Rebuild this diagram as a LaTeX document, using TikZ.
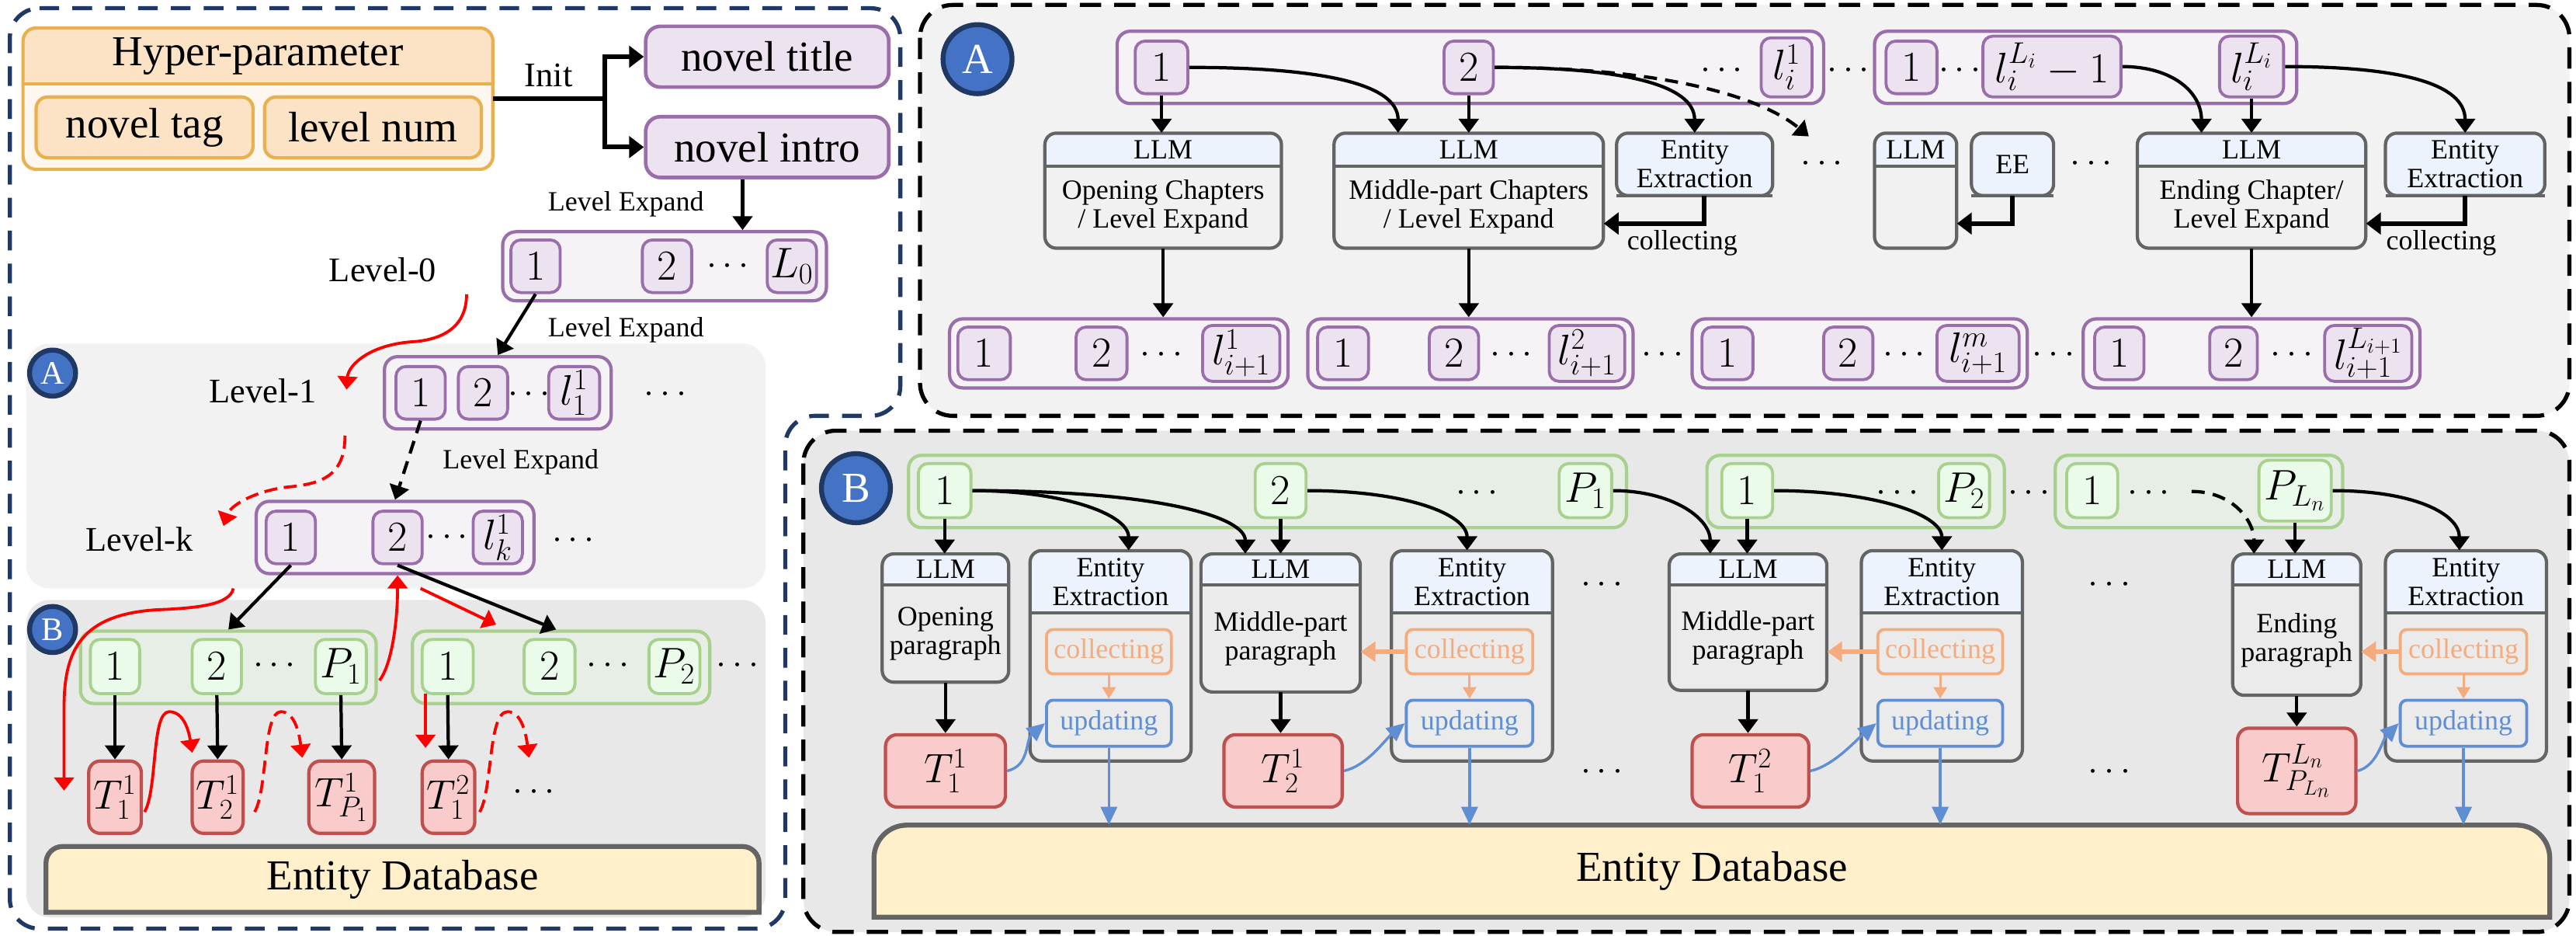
\RequirePackage{fix-cm}
\documentclass[tikz,border=0pt]{standalone}
\usepackage{fontspec}
\setmainfont{Liberation Serif}
\usetikzlibrary{arrows.meta}
\definecolor{pur}{HTML}{9A6EAA}
\definecolor{purfill}{HTML}{EDE3F0}
\definecolor{purcont}{HTML}{F6F3F7}
\definecolor{grn}{HTML}{A9D18E}
\definecolor{grnfill}{HTML}{EAFBEA}
\definecolor{grncont}{HTML}{E6EEE5}
\definecolor{redb}{HTML}{C0504D}
\definecolor{redfill}{HTML}{FACBCB}
\definecolor{hdr}{HTML}{EDF3FD}
\definecolor{bodyA}{HTML}{F1F1F1}
\definecolor{bodyB}{HTML}{EBEBEB}
\definecolor{gline}{HTML}{646464}
\definecolor{edfill}{HTML}{FFEFCA}
\definecolor{org}{HTML}{F4AC7E}
\definecolor{blu}{HTML}{5F8ED2}
\definecolor{navy}{HTML}{1F3864}
\definecolor{circ}{HTML}{4472C4}
\definecolor{hpline}{HTML}{E9B04F}
\definecolor{hpfill}{HTML}{FCE3C6}
\definecolor{hplight}{HTML}{FEF7EF}
\definecolor{bgA}{HTML}{F2F2F2}
\definecolor{bgB}{HTML}{E8E8E8}
\tikzset{
 fbig/.style={font=\fontsize{26}{28}\selectfont},
 fmid/.style={font=\fontsize{21}{23}\selectfont},
 fsm/.style={font=\fontsize{17}{17.5}\selectfont},
 pbox/.style={draw=pur, fill=purfill, line width=1.8pt, rounded corners=6pt, inner sep=0, fbig},
 pbig/.style={draw=pur, fill=purfill, line width=2.2pt, rounded corners=9pt, inner sep=0, fbig},
 pcont/.style={draw=pur, fill=purcont, line width=2pt, rounded corners=8pt, inner sep=0},
 gbox/.style={draw=grn, fill=grnfill, line width=1.8pt, rounded corners=6pt, inner sep=0, fbig},
 gcont/.style={draw=grn, fill=grncont, line width=2pt, rounded corners=8pt, inner sep=0},
 tbox/.style={draw=redb, fill=redfill, line width=2pt, rounded corners=7pt, inner sep=0, font=\fontsize{25}{27}\selectfont},
 hpin/.style={draw=hpline, fill=hpfill, line width=2pt, rounded corners=7pt, inner sep=0, fbig},
 colb/.style={draw=org, line width=1.8pt, rounded corners=4pt, inner sep=0, text=org, fsm},
 updb/.style={draw=blu, line width=1.8pt, rounded corners=4pt, inner sep=0, text=blu, fsm},
 dotsn/.style={inner sep=0, font=\fontsize{22}{24}\selectfont},
 circA/.style={circle, fill=circ, draw=navy, line width=3pt, text=white, inner sep=0, fbig},
 arr/.style={line width=2pt, -{Triangle[length=8.5pt,width=12pt]}},
 darr/.style={line width=2pt, dash pattern=on 8pt off 5pt, -{Triangle[length=8.5pt,width=12pt]}},
 elb/.style={line width=2.8pt, -{Triangle[length=9pt,width=13pt]}},
 redarr/.style={draw=red, line width=1.8pt, -{Triangle[length=8pt,width=12pt]}},
 redd/.style={draw=red, line width=1.8pt, dash pattern=on 8pt off 4pt, -{Triangle[length=8pt,width=12pt]}},
 oarr/.style={draw=org, line width=1.5pt, -{Triangle[length=7pt,width=8pt]}},
 oarr2/.style={draw=org, line width=2.8pt, -{Triangle[length=9pt,width=12pt]}},
 barr/.style={draw=blu, line width=1.6pt, -{Triangle[length=11pt,width=10pt]}},
}
\newcommand\bx[7]{\node[#1, minimum width={(#4)-(#3)}, minimum height={(#6)-(#5)}] (#2) at ({((#3)+(#4))/2},{((#5)+(#6))/2}) {#7};}
\newcommand\HB[9]{%
 \begin{scope}
  \clip[rounded corners=7pt] (#2,#4) rectangle (#3,#5);
  \fill[#9] (#2,#4) rectangle (#3,#5);
  \fill[hdr] (#2,#4) rectangle (#3,#6);
 \end{scope}
 \draw[gline, line width=2pt] (#2,#6) -- (#3,#6);
 \draw[gline, line width=2pt, rounded corners=7pt] (#2,#4) rectangle (#3,#5);
 \node[inner sep=0, minimum width={(#3)-(#2)}, minimum height={(#5)-(#4)}] (#1) at ({((#2)+(#3))/2},{((#4)+(#5))/2}) {};
 \node[fsm, inner sep=0, align=center] (#1h) at ({((#2)+(#3))/2},{((#4)+(#6))/2}) {#7};
 \node[fsm, inner sep=0, align=center] (#1b) at ({((#2)+(#3))/2},{((#6)+(#5))/2}) {#8};
}
\begin{document}
\begin{tikzpicture}[x=1pt,y=-1pt]
\useasboundingbox (0,0) rectangle (1568,569);
\fill[white] (0,0) rectangle (1568,569);

% ---------------- frames ----------------
\fill[bgA, rounded corners=14pt] (16,209) rectangle (466,358);
\fill[bgB, rounded corners=14pt] (16,365) rectangle (466,558);
\draw[navy, line width=2.5pt, dash pattern=on 12pt off 8pt, rounded corners=18pt]
  (6,5) -- (548,5) -- (548,253) -- (478,253) -- (478,565) -- (6,565) -- cycle;
\draw[black, fill=bgA, line width=2.5pt, dash pattern=on 13pt off 8pt, rounded corners=20pt] (560,3) rectangle (1564,253);
\draw[black, fill=bgB, line width=2.5pt, dash pattern=on 13pt off 8pt, rounded corners=20pt] (489,262) rectangle (1564,567);

% ---------------- left panel ----------------
\begin{scope}
 \clip[rounded corners=8pt] (14,17) rectangle (300,103);
 \fill[hplight] (14,17) rectangle (300,103);
 \fill[hpfill] (14,17) rectangle (300,51);
\end{scope}
\draw[hpline, line width=2pt] (14,51) -- (300,51);
\draw[hpline, line width=2pt, rounded corners=8pt] (14,17) rectangle (300,103);
\bx{inner sep=0}{hpbox}{14}{300}{17}{103}{}
\node[fbig, inner sep=0] (hp) at (157,34) {Hyper-parameter};
\bx{hpin}{tag}{22}{154}{59}{96}{novel tag}
\bx{hpin}{lvl}{161}{293}{59}{96}{level num}

\bx{pbig}{title}{393}{541}{16}{53}{novel title}
\bx{pbig}{intro}{393}{541}{71}{108}{novel intro}
\coordinate (ij) at (368,60);
\draw[line width=2.8pt] (hpbox.east) -- (ij);
\draw[elb] (ij) |- (title.west);
\draw[elb] (ij) |- (intro.west);
\node[fmid, inner sep=0] (init) at (334,46) {Init};

\bx{pcont}{L0c}{306}{503}{141}{183}{}
\bx{pbox}{L0a}{311}{341}{146}{178}{$1$}
\bx{pbox}{L0b}{391}{421}{146}{178}{$2$}
\node[dotsn] (L0d) at (443,162) {$\cdots$};
\bx{pbox}{L0l}{467}{497}{146}{178}{$L_0$}
\node[fmid, inner sep=0] (lv0) at (233,164) {Level-0};
\draw[arr] ([xshift=-15pt]intro.south) -- ([xshift=-15pt]intro.south |- L0c.north);
\node[fsm, inner sep=0] (le1) at (381,124) {Level Expand};

\node[circA, minimum size=28pt, font=\fontsize{20}{22}\selectfont] (cA) at (32,227) {A};
\bx{pcont}{L1c}{234}{372}{217}{261}{}
\bx{pbox}{L1a}{241}{271}{223}{255}{$1$}
\bx{pbox}{L1b}{279}{309}{223}{255}{$2$}
\node[dotsn] (L1d) at (322,240) {$\cdots$};
\bx{pbox}{L1l}{334}{365}{223}{255}{$l_1^1$}
\node[dotsn] (L1e) at (405,240) {$\cdots$};
\node[fmid, inner sep=0] (lv1) at (160,238) {Level-1};
\draw[arr] (L0a.south) -- (L1c.north);
\node[fsm, inner sep=0] (le2) at (381,201) {Level Expand};

\bx{pcont}{Lkc}{156}{325}{305}{349}{}
\bx{pbox}{Lka}{162}{192}{311}{343}{$1$}
\bx{pbox}{Lkb}{227}{257}{311}{343}{$2$}
\node[dotsn] (Lkd) at (272,327) {$\cdots$};
\bx{pbox}{Lkl}{288}{318}{311}{343}{$l_k^1$}
\node[dotsn] (Lke) at (349,329) {$\cdots$};
\node[fmid, inner sep=0] (lvk) at (85,328) {Level-k};
\draw[darr] (L1a.south) -- (Lkc.north);
\node[fsm, inner sep=0] (le3) at (317,281) {Level Expand};

\coordinate (r1s) at (284,179); \coordinate (r1e) at (211,237);
\draw[redarr] (r1s) .. controls (284,200) and (268,207) .. (250,208) .. controls (225,210) and (212,222) .. (r1e);
\coordinate (r2s) at (210,265); \coordinate (r2e) at (136,320);
\draw[redd] (r2s) .. controls (210,290) and (195,294) .. (178,296) .. controls (155,298) and (140,308) .. (r2e);

\node[circA, minimum size=28pt, font=\fontsize{20}{22}\selectfont] (cB) at (32,383) {B};
\bx{gcont}{G1}{49}{229}{384}{428}{}
\bx{gbox}{G1a}{55}{85}{389}{422}{$1$}
\bx{gbox}{G1b}{117}{147}{389}{422}{$2$}
\node[dotsn] (G1d) at (167,405) {$\cdots$};
\bx{gbox}{G1p}{192}{223}{389}{422}{$P_1$}
\bx{gcont}{G2}{251}{432}{384}{428}{}
\bx{gbox}{G2a}{257}{288}{389}{422}{$1$}
\bx{gbox}{G2b}{319}{350}{389}{422}{$2$}
\node[dotsn] (G2d) at (370,405) {$\cdots$};
\bx{gbox}{G2p}{395}{426}{389}{422}{$P_2$}
\node[dotsn] (G2e) at (449,405) {$\cdots$};

\bx{tbox}{T11}{54}{86}{463}{507}{$T_1^1$}
\bx{tbox}{T21}{117}{148}{463}{507}{$T_2^1$}
\bx{tbox}{TP1}{188}{228}{463}{507}{$T_{P_1}^1$}
\bx{tbox}{T12}{257}{289}{463}{507}{$T_1^2$}
\node[dotsn] (Td) at (325,482) {$\cdots$};

\draw[arr] (Lka.south) -- (G1.north);
\draw[arr] (Lkb.south) -- ([xshift=-3pt]G2.north);
\draw[arr] (G1a.south) -- (T11.north);
\draw[arr] (G1b.south) -- (T21.north);
\draw[arr] (G1p.south) -- (TP1.north);
\draw[arr] (G2a.south) -- (T12.north);

\coordinate (r3s) at (142,358); \coordinate (r3e) at (39,481);
\draw[redarr] (r3s) .. controls (140,368) and (120,370) .. (95,371) .. controls (50,374) and (39,395) .. (39,430) -- (r3e);
\coordinate (r4s) at (256,358); \coordinate (r4e) at (302,380);
\draw[redarr] (r4s) -- (r4e);
\coordinate (r5s) at (231,414);
\draw[redarr] (r5s) .. controls (238,405) and (242,380) .. (Lkb.south |- Lkc.south);
\coordinate (r6s) at (88,494); \coordinate (r6e) at (117,458);
\draw[redarr] (r6s) .. controls (96,480) and (92,433) .. (103,433) .. controls (112,433) and (115,445) .. (r6e);
\coordinate (r7s) at (155,494); \coordinate (r7e) at (184,461);
\draw[redd] (r7s) .. controls (163,480) and (160,433) .. (171,433) .. controls (179,433) and (182,445) .. (r7e);
\coordinate (r8s) at (259,422); \coordinate (r8e) at (259,455);
\draw[redarr] (r8s) -- (r8e);
\coordinate (r9s) at (292,494); \coordinate (r9e) at (322,461);
\draw[redd] (r9s) .. controls (300,480) and (297,433) .. (309,433) .. controls (317,433) and (320,445) .. (r9e);

\draw[gline, fill=edfill, line width=3pt] (28,555) [rounded corners=10pt] -- (28,515) -- (462,515) [sharp corners] -- (462,555) -- cycle;
\node[fbig, inner sep=0] (edL) at (245,535) {Entity Database};

% ---------------- panel A ----------------
\node[circA, minimum size=42pt] (cA2) at (595,36) {A};
\bx{pcont}{TA1}{680}{1110}{19}{63}{}
\bx{pbox}{Ab1}{691}{723}{25}{57}{$1$}
\bx{pbox}{Ab2}{879}{909}{25}{57}{$2$}
\node[dotsn] (Ad1) at (1048,43) {$\cdots$};
\bx{pbox}{Abl}{1072}{1103}{23}{59}{$l_i^1$}
\node[dotsn] (Ad2) at (1125,43) {$\cdots$};
\bx{pcont}{TA2}{1141}{1398}{19}{63}{}
\bx{pbox}{Ac1}{1148}{1179}{25}{57}{$1$}
\node[dotsn] (Ad3) at (1193,43) {$\cdots$};
\bx{pbox}{Acm}{1207}{1291}{22}{59}{$l_i^{L_i}-1$}
\bx{pbox}{Acl}{1351}{1390}{22}{59}{$l_i^{L_i}$}

\HB{LA1}{636}{780}{81}{151}{101}{LLM}{Opening Chapters\\/ Level Expand}{bodyA}
\HB{LA2}{812}{976}{81}{151}{101}{LLM}{Middle-part Chapters\\/ Level Expand}{bodyA}
\HB{EA1}{984}{1079}{81}{119}{119}{Entity\\Extraction}{}{bodyA}
\HB{LA3}{1141}{1191}{81}{151}{101}{LLM}{}{bodyA}
\HB{EA3}{1200}{1250}{81}{119}{119}{EE}{}{bodyA}
\HB{LA4}{1301}{1440}{81}{151}{101}{LLM}{Ending Chapter/\\Level Expand}{bodyA}
\HB{EA4}{1452}{1549}{81}{119}{119}{Entity\\Extraction}{}{bodyA}
\node[dotsn] (Ad4) at (1109,100) {$\cdots$};
\node[dotsn] (Ad5) at (1273,100) {$\cdots$};

\draw[elb] ([xshift=6pt]EA1.south) |- ([yshift=-20pt]LA2.east);
\draw[elb] (EA3.south) |- ([yshift=-20pt]LA3.east);
\draw[elb] (EA4.south) |- ([yshift=-20pt]LA4.east);
\node[fsm, inner sep=0] (colA1) at (1024,148) {collecting};
\node[fsm, inner sep=0] (colA2) at (1486,148) {collecting};

\draw[arr] (Ab1.south) -- (Ab1.south |- LA1.north);
\draw[arr] (Ab1.east) .. controls +(80,0) and +(0,-30) .. ([xshift=-43pt]LA2.north);
\draw[arr] (Ab2.south) -- (Ab2.south |- LA2.north);
\draw[arr] (Ab2.east) .. controls +(75,0) and +(0,-30) .. (EA1.north);
\coordinate (Adash) at (1101,83);
\draw[darr] (Ab2.east) .. controls +(100,0) and +(-30,-25) .. (Adash);
\draw[arr] (Acm.east) .. controls +(30,0) and +(0,-25) .. ([xshift=-30.5pt]LA4.north);
\draw[arr] (Acl.south) -- (Acl.south |- LA4.north);
\draw[arr] (Acl.east) .. controls +(70,0) and +(0,-30) .. (EA4.north);

\bx{pcont}{BA1}{578}{784}{194}{236}{}
\bx{pbox}{BA1a}{583}{615}{199}{231}{$1$}
\bx{pbox}{BA1b}{655}{686}{199}{231}{$2$}
\node[dotsn] (BA1d) at (707,216) {$\cdots$};
\bx{pbox}{BA1l}{732}{779}{198}{232}{$l_{i+1}^1$}
\bx{pcont}{BA2}{796}{994}{194}{236}{}
\bx{pbox}{BA2a}{802}{833}{199}{231}{$1$}
\bx{pbox}{BA2b}{870}{900}{199}{231}{$2$}
\node[dotsn] (BA2d) at (920,216) {$\cdots$};
\bx{pbox}{BA2l}{943}{989}{198}{232}{$l_{i+1}^2$}
\node[dotsn] (BAe1) at (1012,216) {$\cdots$};
\bx{pcont}{BA3}{1030}{1234}{194}{236}{}
\bx{pbox}{BA3a}{1036}{1067}{199}{231}{$1$}
\bx{pbox}{BA3b}{1110}{1140}{199}{231}{$2$}
\node[dotsn] (BA3d) at (1159,216) {$\cdots$};
\bx{pbox}{BA3l}{1179}{1229}{198}{232}{$l_{i+1}^m$}
\node[dotsn] (BAe2) at (1250,216) {$\cdots$};
\bx{pcont}{BA4}{1268}{1473}{194}{236}{}
\bx{pbox}{BA4a}{1275}{1305}{199}{231}{$1$}
\bx{pbox}{BA4b}{1345}{1374}{199}{231}{$2$}
\node[dotsn] (BA4d) at (1395,216) {$\cdots$};
\bx{pbox}{BA4l}{1415}{1468}{198}{232}{$l_{i+1}^{L_{i+1}}$}

\draw[arr] (LA1.south) -- (LA1.south |- BA1.north);
\draw[arr] (LA2.south) -- (LA2.south |- BA2.north);
\draw[arr] (LA4.south) -- (LA4.south |- BA4.north);

% ---------------- panel B ----------------
\node[circA, minimum size=42pt] (cB2) at (521,297) {B};
\bx{gcont}{GB1}{553}{990}{277}{321}{}
\bx{gbox}{GB1a}{559}{591}{282}{315}{$1$}
\bx{gbox}{GB1b}{764}{795}{282}{315}{$2$}
\node[dotsn] (GB1d) at (899,300) {$\cdots$};
\bx{gbox}{GB1p}{949}{981}{282}{315}{$P_1$}
\bx{gcont}{GB2}{1039}{1220}{277}{321}{}
\bx{gbox}{GB2a}{1048}{1079}{282}{315}{$1$}
\node[dotsn] (GB2d) at (1155,300) {$\cdots$};
\bx{gbox}{GB2p}{1180}{1211}{282}{315}{$P_2$}
\node[dotsn] (GBe) at (1235,300) {$\cdots$};
\bx{gcont}{GB3}{1251}{1426}{277}{321}{}
\bx{gbox}{GB3a}{1258}{1289}{282}{315}{$1$}
\node[dotsn] (GB3d) at (1308,300) {$\cdots$};
\bx{gbox}{GB3p}{1375}{1419}{280}{317}{$P_{L_n}$}

\HB{LB1}{537}{614}{337}{415}{356}{LLM}{Opening\\paragraph}{bodyB}
\HB{EB1}{627}{725}{335}{463}{373}{Entity\\Extraction}{}{bodyB}
\HB{LB2}{731}{828}{337}{421}{356}{LLM}{Middle-part\\paragraph}{bodyB}
\HB{EB2}{847}{945}{335}{463}{373}{Entity\\Extraction}{}{bodyB}
\HB{LB3}{1016}{1112}{337}{420}{356}{LLM}{Middle-part\\paragraph}{bodyB}
\HB{EB3}{1133}{1231}{335}{463}{373}{Entity\\Extraction}{}{bodyB}
\HB{LB4}{1359}{1437}{337}{423}{356}{LLM}{Ending\\paragraph}{bodyB}
\HB{EB4}{1452}{1550}{335}{463}{373}{Entity\\Extraction}{}{bodyB}

\bx{colb}{EB1c}{637}{713}{383}{410}{collecting}
\bx{updb}{EB1u}{637}{713}{426}{454}{updating}
\bx{colb}{EB2c}{856}{933}{383}{410}{collecting}
\bx{updb}{EB2u}{856}{933}{426}{454}{updating}
\bx{colb}{EB3c}{1143}{1219}{383}{410}{collecting}
\bx{updb}{EB3u}{1143}{1219}{426}{454}{updating}
\bx{colb}{EB4c}{1461}{1538}{383}{410}{collecting}
\bx{updb}{EB4u}{1461}{1538}{426}{454}{updating}

\node[dotsn] (Bd1) at (975,356) {$\cdots$};
\node[dotsn] (Bd2) at (975,470) {$\cdots$};
\node[dotsn] (Bd3) at (1284,356) {$\cdots$};
\node[dotsn] (Bd4) at (1284,470) {$\cdots$};

\bx{tbox}{TB1}{539}{612}{447}{491}{$T_1^1$}
\bx{tbox}{TB2}{745}{817}{447}{491}{$T_2^1$}
\bx{tbox}{TB3}{1030}{1101}{447}{491}{$T_1^2$}
\bx{tbox}{TB4}{1362}{1434}{443}{495}{$T_{P_{L_n}}^{L_n}$}

\draw[gline, fill=edfill, line width=3pt] (532,558) [rounded corners=20pt] -- (532,502) -- (1552,502) [sharp corners] -- (1552,558) -- cycle;
\bx{inner sep=0}{EDB}{532}{1552}{502}{558}{}
\node[fbig, inner sep=0] (edR) at (1042,530) {Entity Database};

% arrows B
\draw[arr] (GB1a.south) -- (GB1a.south |- LB1.north);
\draw[arr] (GB1a.east) .. controls +(55,0) and +(0,-22) .. ([xshift=11pt]EB1.north);
\draw[arr] (GB1a.east) .. controls +(115,0) and +(0,-22) .. ([xshift=-21.5pt]LB2.north);
\draw[arr] (GB1b.south) -- (GB1b.south |- LB2.north);
\draw[arr] (GB1b.east) .. controls +(60,0) and +(0,-22) .. ([xshift=-3pt]EB2.north);
\draw[arr] (GB1p.east) .. controls +(35,0) and +(0,-22) .. ([xshift=-23pt]LB3.north);
\draw[arr] (GB2a.south) -- (GB2a.south |- LB3.north);
\draw[arr] (GB2a.east) .. controls +(60,0) and +(0,-22) .. (EB3.north);
\coordinate (Bdash) at (1334,299);
\draw[darr] (Bdash) .. controls +(25,0) and +(0,-20) .. ([xshift=-26pt]LB4.north);
\draw[arr] (GB3p.south) -- (GB3p.south |- LB4.north);
\draw[arr] (GB3p.east) .. controls +(50,0) and +(0,-22) .. ([xshift=-4pt]EB4.north);

\draw[arr] (LB1.south) -- (LB1.south |- TB1.north);
\draw[arr] (LB2.south) -- (LB2.south |- TB2.north);
\draw[arr] (LB3.south) -- (LB3.south |- TB3.north);
\draw[arr] (LB4.south) -- (LB4.south |- TB4.north);

\draw[oarr] (EB1c.south) -- (EB1u.north);
\draw[oarr] (EB2c.south) -- (EB2u.north);
\draw[oarr] (EB3c.south) -- (EB3u.north);
\draw[oarr] (EB4c.south) -- (EB4u.north);
\draw[oarr2] (EB2c.west) -- (EB2c.west -| LB2.east);
\draw[oarr2] (EB3c.west) -- (EB3c.west -| LB3.east);
\draw[oarr2] (EB4c.west) -- (EB4c.west -| LB4.east);

\draw[barr] (EB1u.south) -- (EB1u.south |- EDB.north);
\draw[barr] (EB2u.south) -- (EB2u.south |- EDB.north);
\draw[barr] (EB3u.south) -- (EB3u.south |- EDB.north);
\draw[barr] (EB4u.south) -- (EB4u.south |- EDB.north);
\draw[barr] (TB1.east) .. controls +(14,-3) and +(-12,10) .. (EB1u.west);
\draw[barr] (TB2.east) .. controls +(14,-3) and +(-12,10) .. (EB2u.west);
\draw[barr] (TB3.east) .. controls +(14,-3) and +(-12,10) .. (EB3u.west);
\draw[barr] (TB4.east) .. controls +(12,-3) and +(-10,10) .. (EB4u.west);
\end{tikzpicture}
\end{document}
